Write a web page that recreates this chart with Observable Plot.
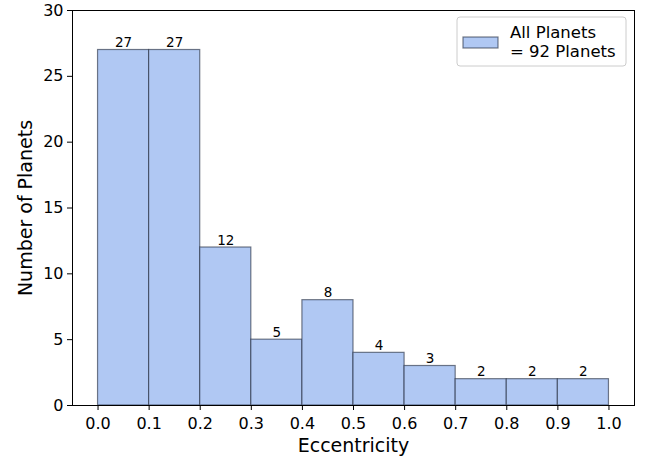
<!DOCTYPE html>
<html>
<head>
<meta charset="utf-8">
<script src="https://cdn.jsdelivr.net/npm/d3@7"></script>
<script src="https://cdn.jsdelivr.net/npm/@observablehq/plot@0.6"></script>
<style>
  html, body { margin: 0; padding: 0; background: #fff; overflow: hidden; }
  #chart { width: 651px; height: 460px; }
</style>
</head>
<body>
<div id="chart"></div>
<script>
const binStart = [0.0, 0.1, 0.2, 0.3, 0.4, 0.5, 0.6, 0.7, 0.8, 0.9];
const binEnd   = [0.1, 0.2, 0.3, 0.4, 0.5, 0.6, 0.7, 0.8, 0.9, 1.0];
const counts   = [27, 27, 12, 5, 8, 4, 3, 2, 2, 2];
const xTicks   = [0.0, 0.1, 0.2, 0.3, 0.4, 0.5, 0.6, 0.7, 0.8, 0.9, 1.0];
const yTicks   = [0, 5, 10, 15, 20, 25, 30];
const legendLines = ["All Planets", "= 92 Planets"];

const data = counts.map((c, i) => ({x1: binStart[i], x2: binEnd[i], y: c}));

const W = 651, H = 460;
const mL = 72, mT = 10, mR = 17, mB = 55;
const barFill = "#b0c8f3", barStroke = "#1e2638";

const plot = Plot.plot({
  width: W,
  height: H,
  marginLeft: mL, marginTop: mT, marginRight: mR, marginBottom: mB,
  style: {fontFamily: "DejaVu Sans", fontSize: "16px", background: "#fff", color: "#000"},
  x: {domain: [-0.05, 1.05]},
  y: {domain: [0, 30]},
  marks: [
    Plot.rectY(data, {x1: "x1", x2: "x2", y: "y", fill: barFill, stroke: barStroke, strokeOpacity: 0.6, strokeWidth: 1.2, inset: 0}),
    Plot.text(data, {x: d => (d.x1 + d.x2) / 2, y: "y", text: d => String(d.y), lineAnchor: "bottom", dy: -3, fontSize: 13.5, fill: "#000"}),
    Plot.axisX({ticks: xTicks, tickFormat: d3.format(".1f"), tickSize: 5, tickPadding: 7, label: null, fontSize: 16, stroke: "#000", strokeWidth: 1}),
    Plot.axisY({ticks: yTicks, tickSize: 5, tickPadding: 4, label: null, fontSize: 16, stroke: "#000", strokeWidth: 1}),
    Plot.frame({stroke: "#000", strokeWidth: 1}),
    Plot.text(["Eccentricity"], {frameAnchor: "bottom", dy: 40.5, text: d => d, fontSize: 19, textAnchor: "middle", lineAnchor: "middle", fill: "#000"}),
    Plot.text(["Number of Planets"], {frameAnchor: "left", dx: -47, rotate: -90, text: d => d, fontSize: 19, textAnchor: "middle", lineAnchor: "middle", fill: "#000"})
  ]
});

document.getElementById("chart").appendChild(plot);

// Legend (matplotlib-style, upper right)
const svg = d3.select(plot);
const lg = svg.append("g").attr("font-family", "DejaVu Sans").attr("font-size", 16.5).attr("text-anchor", "start");
lg.append("rect").attr("x", 457).attr("y", 17).attr("width", 169).attr("height", 49)
  .attr("rx", 3).attr("fill", "#fff").attr("fill-opacity", 0.8).attr("stroke", "#cccccc").attr("stroke-width", 1);
lg.append("rect").attr("x", 463).attr("y", 37).attr("width", 35).attr("height", 11)
  .attr("fill", barFill).attr("stroke", barStroke).attr("stroke-opacity", 0.6).attr("stroke-width", 1.2);
lg.selectAll("text.l").data(legendLines).join("text")
  .attr("class", "l")
  .attr("x", 510).attr("y", (d, i) => 37.5 + i * 19).attr("fill", "#000").text(d => d);
</script>
</body>
</html>
